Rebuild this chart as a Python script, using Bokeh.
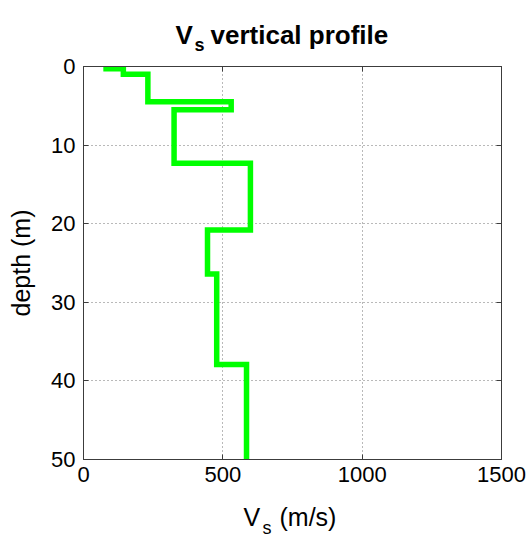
from bokeh.plotting import figure
from bokeh.layouts import column
from bokeh.models import LinearAxis, FixedTicker, CustomJSTickFormatter
from bokeh.core.properties import value
from bokeh.embed import file_html
from bokeh.resources import INLINE

# ---- data ----
vs_layers = [81, 143, 231, 530, 325, 599, 445, 478, 585]          # Vs of each layer (m/s)
layer_bottoms = [0.3, 1.0, 4.5, 5.5, 12.3, 20.8, 26.4, 37.9, 50.0]  # bottom depth of each layer (m)
x_ticks = [0, 500, 1000, 1500]
y_ticks = [0, 10, 20, 30, 40, 50]

# stair profile built from the layer arrays
xs, ys = [], []
top = 0.0
for v, b in zip(vs_layers, layer_bottoms):
    xs += [v, v]
    ys += [top, b]
    top = b

FONT = "Liberation Sans"
AXC = "#3c3c3c"
LEFT, RIGHT = 83, 30          # side borders (px); frame 418 px wide -> total 531
FRAME_W, FRAME_H = 418, 393
TITLE_H = 53
TOP_B, BOT_B = 13, 33
XL_TOP = TITLE_H + TOP_B + FRAME_H + BOT_B   # page y where the x-label strip starts
XL_H = 536 - XL_TOP


def text_strip(y0, height, items):
    """A bare figure that only holds text; its ranges are in page pixels."""
    f = figure(frame_width=FRAME_W, height=height,
               x_range=(LEFT, LEFT + FRAME_W), y_range=(y0 + height, y0),
               x_axis_type=None, y_axis_type=None, output_backend="svg",
               toolbar_location=None, min_border_left=LEFT, min_border_right=RIGHT,
               min_border_top=0, min_border_bottom=0, outline_line_color=None,
               background_fill_color="white", border_fill_color="white")
    f.title.visible = False
    f.xgrid.visible = False
    f.ygrid.visible = False
    for txt, x, y, size, style in items:
        f.text(x=[x], y=[y], text=[txt], text_font=value(FONT), text_font_size=value(size),
               text_font_style=style, text_color="black", text_baseline="alphabetic",
               text_align="left")
    return f


# ---- title: "V_s vertical profile" ----
title_fig = text_strip(0, TITLE_H, [
    ("V", 175, 34, "26px", "bold"),
    ("s", 194, 44, "18px", "bold"),
    ("vertical profile", 210, 34, "26px", "bold"),
])

# ---- main plot ----
p = figure(frame_width=FRAME_W, frame_height=FRAME_H, x_range=(0, 1500), y_range=(50, 0),
           output_backend="svg", toolbar_location=None,
           min_border_left=LEFT, min_border_right=RIGHT,
           min_border_top=TOP_B, min_border_bottom=BOT_B,
           background_fill_color="white", border_fill_color="white")
p.title.visible = False

p.line(xs, ys, line_color="#00ff00", line_width=5.5, line_join="miter")

for ax, ticks in ((p.xaxis[0], x_ticks), (p.yaxis[0], y_ticks)):
    ax.ticker = FixedTicker(ticks=ticks)
    ax.major_label_text_font = FONT
    ax.major_label_text_font_size = "22px"
    ax.major_label_text_color = "black"
    ax.major_tick_in = 5
    ax.major_tick_out = 0
    ax.major_tick_line_color = AXC
    ax.minor_tick_line_color = None
    ax.axis_line_color = AXC
p.xaxis.major_label_standoff = 7
p.yaxis.major_label_standoff = 8
p.yaxis.axis_label = "depth (m)"
p.yaxis.axis_label_text_font = FONT
p.yaxis.axis_label_text_font_size = "25px"
p.yaxis.axis_label_text_font_style = "normal"
p.yaxis.axis_label_text_color = "black"
p.yaxis.axis_label_standoff = 13

# ticks on the right and top sides (box style), without labels
blank = CustomJSTickFormatter(code="return ''")
for side, ticks in (("right", y_ticks), ("above", x_ticks)):
    ax = LinearAxis(ticker=FixedTicker(ticks=ticks), formatter=blank,
                    major_tick_in=5, major_tick_out=0, major_tick_line_color=AXC,
                    minor_tick_line_color=None, axis_line_color=AXC, major_label_standoff=0)
    p.add_layout(ax, side)

p.xgrid.ticker = FixedTicker(ticks=x_ticks)
p.ygrid.ticker = FixedTicker(ticks=y_ticks)
for g in (p.xgrid[0], p.ygrid[0]):
    g.grid_line_color = "black"
    g.grid_line_alpha = 0.55
    g.grid_line_dash = "1 3"
    g.grid_line_width = 1

p.outline_line_color = AXC
p.outline_line_width = 1

# ---- x label: "V_s (m/s)" ----
xlabel_fig = text_strip(XL_TOP, XL_H, [
    ("V", 243, 516, "25px", "normal"),
    ("s", 262, 527, "18px", "normal"),
    ("(m/s)", 279, 516, "25px", "normal"),
])

layout = column(title_fig, p, xlabel_fig, spacing=0)
open("out.html", "w").write(file_html(layout, INLINE))
